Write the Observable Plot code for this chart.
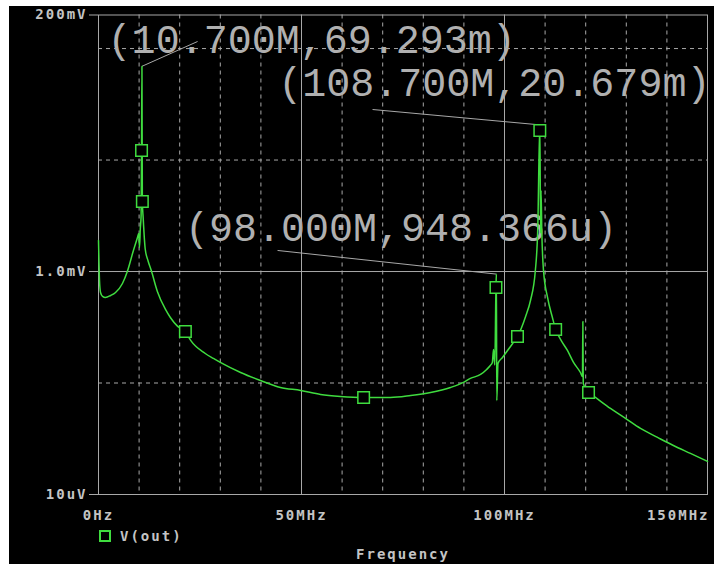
<!DOCTYPE html>
<html><head><meta charset="utf-8">
<script src="https://cdn.jsdelivr.net/npm/d3@7"></script>
<script src="https://cdn.jsdelivr.net/npm/@observablehq/plot@0.6"></script>
<style>
html,body{margin:0;padding:0;background:#fff;}
#wrap{position:absolute;left:9px;top:6px;width:705px;height:558px;background:#000;overflow:hidden;}
#wrap svg text{letter-spacing:2px;}
#wrap svg g[font-size="40"] text{letter-spacing:0;}
#legend{position:absolute;left:90px;top:524px;height:12px;display:flex;align-items:center;}
#legend .sw{width:8px;height:8px;border:2px solid #3fdc3f;}
#legend .lb{margin-left:9px;font:bold 14px "DejaVu Sans Mono";letter-spacing:2px;color:#c4c4c4;line-height:12px;}
</style></head><body>
<div id="wrap"><div id="legend"><span class="sw"></span><span class="lb" id="legendText"></span></div></div>
<script>
// Frequency (MHz) and V(out) in volts
const freqMHz = [
  0, 0.25, 0.5, 1.0, 1.7, 3.0, 4.2, 5.9, 7.1, 8.6,
  9.6, 9.9, 10.1, 10.3, 10.5, 10.6, 10.7, 10.8, 11.0, 11.5,
  12.2, 13.0, 14.5, 16.5, 17.7, 19.5, 21.4, 22.7, 26.3, 28.3, 30.0,
  35.0, 39.9, 44.8, 49.8, 54.7, 59.6, 65.3, 71.9, 76.9, 81.8,
  86.7, 89.9, 91.6, 94.1, 95.6, 96.5, 97.0, 97.3, 97.6, 97.9,
  98.0, 98.1, 98.4, 99.5, 102.0, 103.2, 105.2, 106.4, 107.6, 108.2,
  108.7, 108.9, 109.0, 109.2, 109.6, 110.6, 111.8, 112.6, 113.8, 115.5,
  117.0, 118.7, 119.2, 119.3, 119.4, 120.7, 122.4, 126.1, 129.8, 133.5,
  137.7, 141.6, 145.8, 150.0
];
const vOut = [
  1.90e-3, 0.83e-3, 0.649e-3, 0.598e-3, 0.585e-3, 0.610e-3, 0.649e-3, 0.781e-3, 1.00e-3, 1.545e-3,
  2.02e-3, 2.19e-3, 1.64e-3, 2.43e-3, 3.18e-3, 12.18e-3, 69.293e-3, 4.25e-3, 3.05e-3, 1.60e-3,
  1.25e-3, 1.02e-3, 0.663e-3, 0.457e-3, 0.387e-3, 0.322e-3, 0.290e-3, 0.241e-3, 0.184e-3, 0.166e-3, 0.153e-3,
  0.1243e-3, 0.1054e-3, 0.0912e-3, 0.0858e-3, 0.0790e-3, 0.0758e-3, 0.0742e-3, 0.0742e-3, 0.0773e-3, 0.0823e-3,
  0.0912e-3, 0.1012e-3, 0.1099e-3, 0.1193e-3, 0.1323e-3, 0.1437e-3, 0.1529e-3, 0.200e-3, 0.145e-3, 0.719e-3,
  0.948366e-3, 0.0698e-3, 0.150e-3, 0.1696e-3, 0.2264e-3, 0.2616e-3, 0.3954e-3, 0.550e-3, 1.022e-3, 2.48e-3,
  20.679e-3, 2.2e-3, 5.33e-3, 2.19e-3, 1.03e-3, 0.585e-3, 0.387e-3, 0.302e-3, 0.246e-3, 0.196e-3,
  0.153e-3, 0.1243e-3, 0.1145e-3, 0.3565e-3, 0.0991e-3, 0.0823e-3, 0.0742e-3, 0.0591e-3, 0.0481e-3, 0.0391e-3,
  0.0325e-3, 0.0275e-3, 0.02335e-3, 0.0198e-3
];
// Marker symbols on the trace
const markerF = [10.6, 10.8, 21.4, 65.3, 97.9, 103.2, 108.7, 112.6, 120.7];
const markerV = [12.18e-3, 4.25e-3, 0.290e-3, 0.0742e-3, 0.719e-3, 0.2616e-3, 18.4e-3, 0.302e-3, 0.0823e-3];

// Cursor annotations
const annLabels = ["(10.700M,69.293m)", "(108.700M,20.679m)", "(98.000M,948.366u)"];
const annPointF = [10.7, 108.7, 98.0];
const annPointV = [69.293e-3, 20.679e-3, 948.366e-6];
const annLeaderF = [24.4, 67.5, 44.1];
const annLeaderV = [115.7e-3, 28.4e-3, 1.545e-3];
const annTextF = [52.5, 97.5, 74.5];
const annTextV = [120e-3, 49.4e-3, 2.47e-3];

// Axes ticks and grid
const xTickValues = [0, 50, 100];
const xTickLabels = ["0Hz", "50MHz", "100MHz"];
const xLastTick = [150];
const xLastLabel = ["150MHz"];
const yTickValues = [1e-5, 1e-3, 0.2];
const yTickLabels = ["10uV", "1.0mV", "200mV"];
const xMinorGrid = [10, 20, 30, 40, 60, 70, 80, 90, 110, 120, 130, 140];
const xMajorGrid = [50, 100];
const yMinorGrid = [1e-4, 1e-2, 1e-1];
const yMajorGrid = [1e-3];
const seriesName = "V(out)";
const xTitle = "Frequency";

const GREEN = "#3fdc3f";
const GRID = "#a8a8a8";
const idx = freqMHz.map((_, i) => i);
const midx = markerF.map((_, i) => i);

const chart = Plot.plot({
  width: 705,
  height: 558,
  marginLeft: 89,
  marginRight: 7,
  marginTop: 8.5,
  marginBottom: 70,
  style: {background: "#000", color: "#c4c4c4", fontFamily: "DejaVu Sans Mono", fontSize: "14px", fontWeight: "bold", overflow: "visible"},
  x: {domain: [0, 150]},
  y: {type: "log", domain: [1e-5, 0.2]},
  marks: [
    Plot.text(annLabels, {x: (d, i) => annTextF[i], y: (d, i) => annTextV[i], text: d => d,
      fontSize: 40, fontWeight: "normal", fontFamily: "Liberation Mono", fill: "#b0b0b0", textAnchor: "middle"}),
    Plot.ruleX(xMinorGrid, {stroke: GRID, strokeDasharray: "4,4"}),
    Plot.ruleY(yMinorGrid, {stroke: GRID, strokeDasharray: "4,4"}),
    Plot.ruleX(xMajorGrid, {stroke: GRID}),
    Plot.ruleY(yMajorGrid, {stroke: GRID}),
    Plot.frame({stroke: GRID}),
    Plot.axisY(yTickValues, {tickFormat: d => yTickLabels[yTickValues.indexOf(d)], tickSize: 9, tickPadding: 2, stroke: GRID, label: null}),
    Plot.axisX(xTickValues, {tickFormat: d => xTickLabels[xTickValues.indexOf(d)], tickSize: 0, tickPadding: 16, label: null}),
    Plot.axisX(xLastTick, {tickFormat: d => xLastLabel[xLastTick.indexOf(d)], tickSize: 0, tickPadding: 16, textAnchor: "end", dx: 2, label: null}),
    Plot.link(annLabels, {x1: (d, i) => annLeaderF[i], y1: (d, i) => annLeaderV[i], x2: (d, i) => annPointF[i], y2: (d, i) => annPointV[i], stroke: GRID, strokeWidth: 1}),
    Plot.line(idx, {x: i => freqMHz[i], y: i => vOut[i], stroke: GREEN, strokeWidth: 1.5, curve: "monotone-x"}),
    Plot.dot(midx, {x: i => markerF[i], y: i => markerV[i], symbol: "square", r: 6.5, stroke: GREEN, strokeWidth: 1.5, fill: "#000"}),
    Plot.text([xTitle], {frameAnchor: "bottom", dy: 64.5, text: d => d, fill: "#c4c4c4"})
  ]
});
document.getElementById("wrap").prepend(chart);
document.getElementById("legendText").textContent = seriesName;
</script>
</body></html>
